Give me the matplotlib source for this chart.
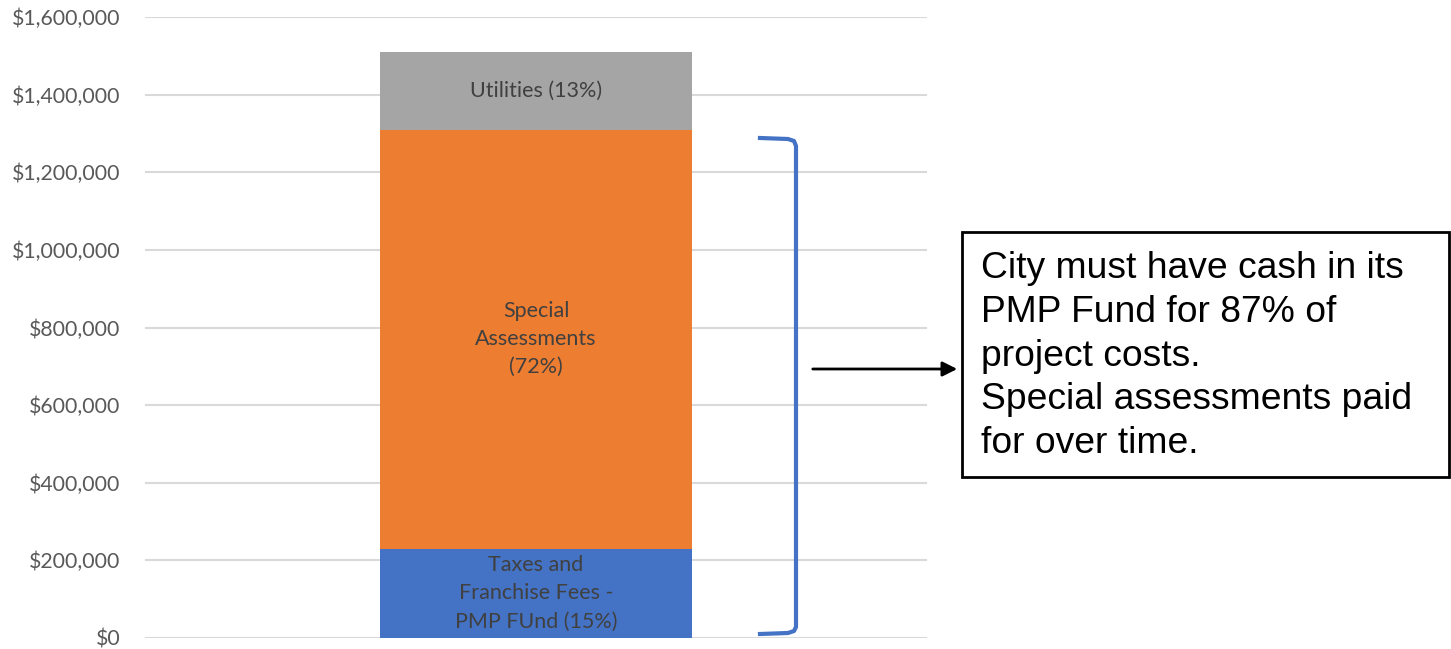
import matplotlib.pyplot as plt
from matplotlib.lines import Line2D
from matplotlib.patches import FancyArrowPatch, Rectangle
from matplotlib.ticker import FuncFormatter

# 数据
segments = ['Taxes and\nFranchise Fees -\nPMP FUnd (15%)', 'Special\nAssessments\n(72%)', 'Utilities (13%)']
values = [230000, 1080000, 200000]
colors = ['#4472C4', '#ED7D31', '#A5A5A5']
note = 'City must have cash in its\nPMP Fund for 87% of\nproject costs.\nSpecial assessments paid\nfor over time.'

W, H = 1451, 649
fig = plt.figure(figsize=(W / 100, H / 100), dpi=100)
ax = fig.add_axes([145 / W, 11 / H, (927 - 145) / W, (638 - 17) / H])

bottom = 0
for lab, v, c in zip(segments, values, colors):
    ax.bar(0, v, width=0.4, bottom=bottom, color=c, zorder=2)
    ax.text(0, bottom + v / 2, lab, ha='center', va='center', fontsize=15.5,
            family='Lato', color='#404040', linespacing=1.5, zorder=3)
    bottom += v

ax.set_xlim(-0.5, 0.5)
ax.set_ylim(0, 1600000)
ax.set_yticks(range(0, 1600001, 200000))
ax.yaxis.set_major_formatter(FuncFormatter(lambda y, p: '${:,.0f}'.format(y)))
ax.set_xticks([])
ax.tick_params(axis='y', length=0, pad=17.5, labelsize=15.3, labelcolor='#595959')
for t in ax.get_yticklabels():
    t.set_family('Lato')
ax.grid(axis='y', color='#D9D9D9', linewidth=1.5, zorder=0)
for s in ax.spines.values():
    s.set_visible(False)

# 右侧括号
def fx(px):
    return px / W

def fy(py):
    return 1 - py / H

bx = [fx(760), fx(788), fx(794), fx(796), fx(796), fx(794), fx(788), fx(760)]
by = [fy(138), fy(139), fy(141), fy(146), fy(627), fy(631), fy(633), fy(634)]
fig.add_artist(Line2D(bx, by, color='#4472C4', linewidth=3, transform=fig.transFigure,
                      solid_joinstyle='round'))

# 箭头
arr = FancyArrowPatch((fx(810), fy(369)), (fx(960), fy(369)), transform=fig.transFigure,
                      arrowstyle='-|>', mutation_scale=22, color='black', linewidth=2)
fig.add_artist(arr)

# 文本框
fig.add_artist(Rectangle((fx(962), fy(477)), fx(1449) - fx(962), fy(232) - fy(477),
                         transform=fig.transFigure, fill=False, edgecolor='black', linewidth=2))
fig.text(fx(981), fy(356), note, ha='left', va='center', fontsize=26.8,
         family='Liberation Sans', color='black', linespacing=1.33)

fig.savefig('out.png', dpi=100)
